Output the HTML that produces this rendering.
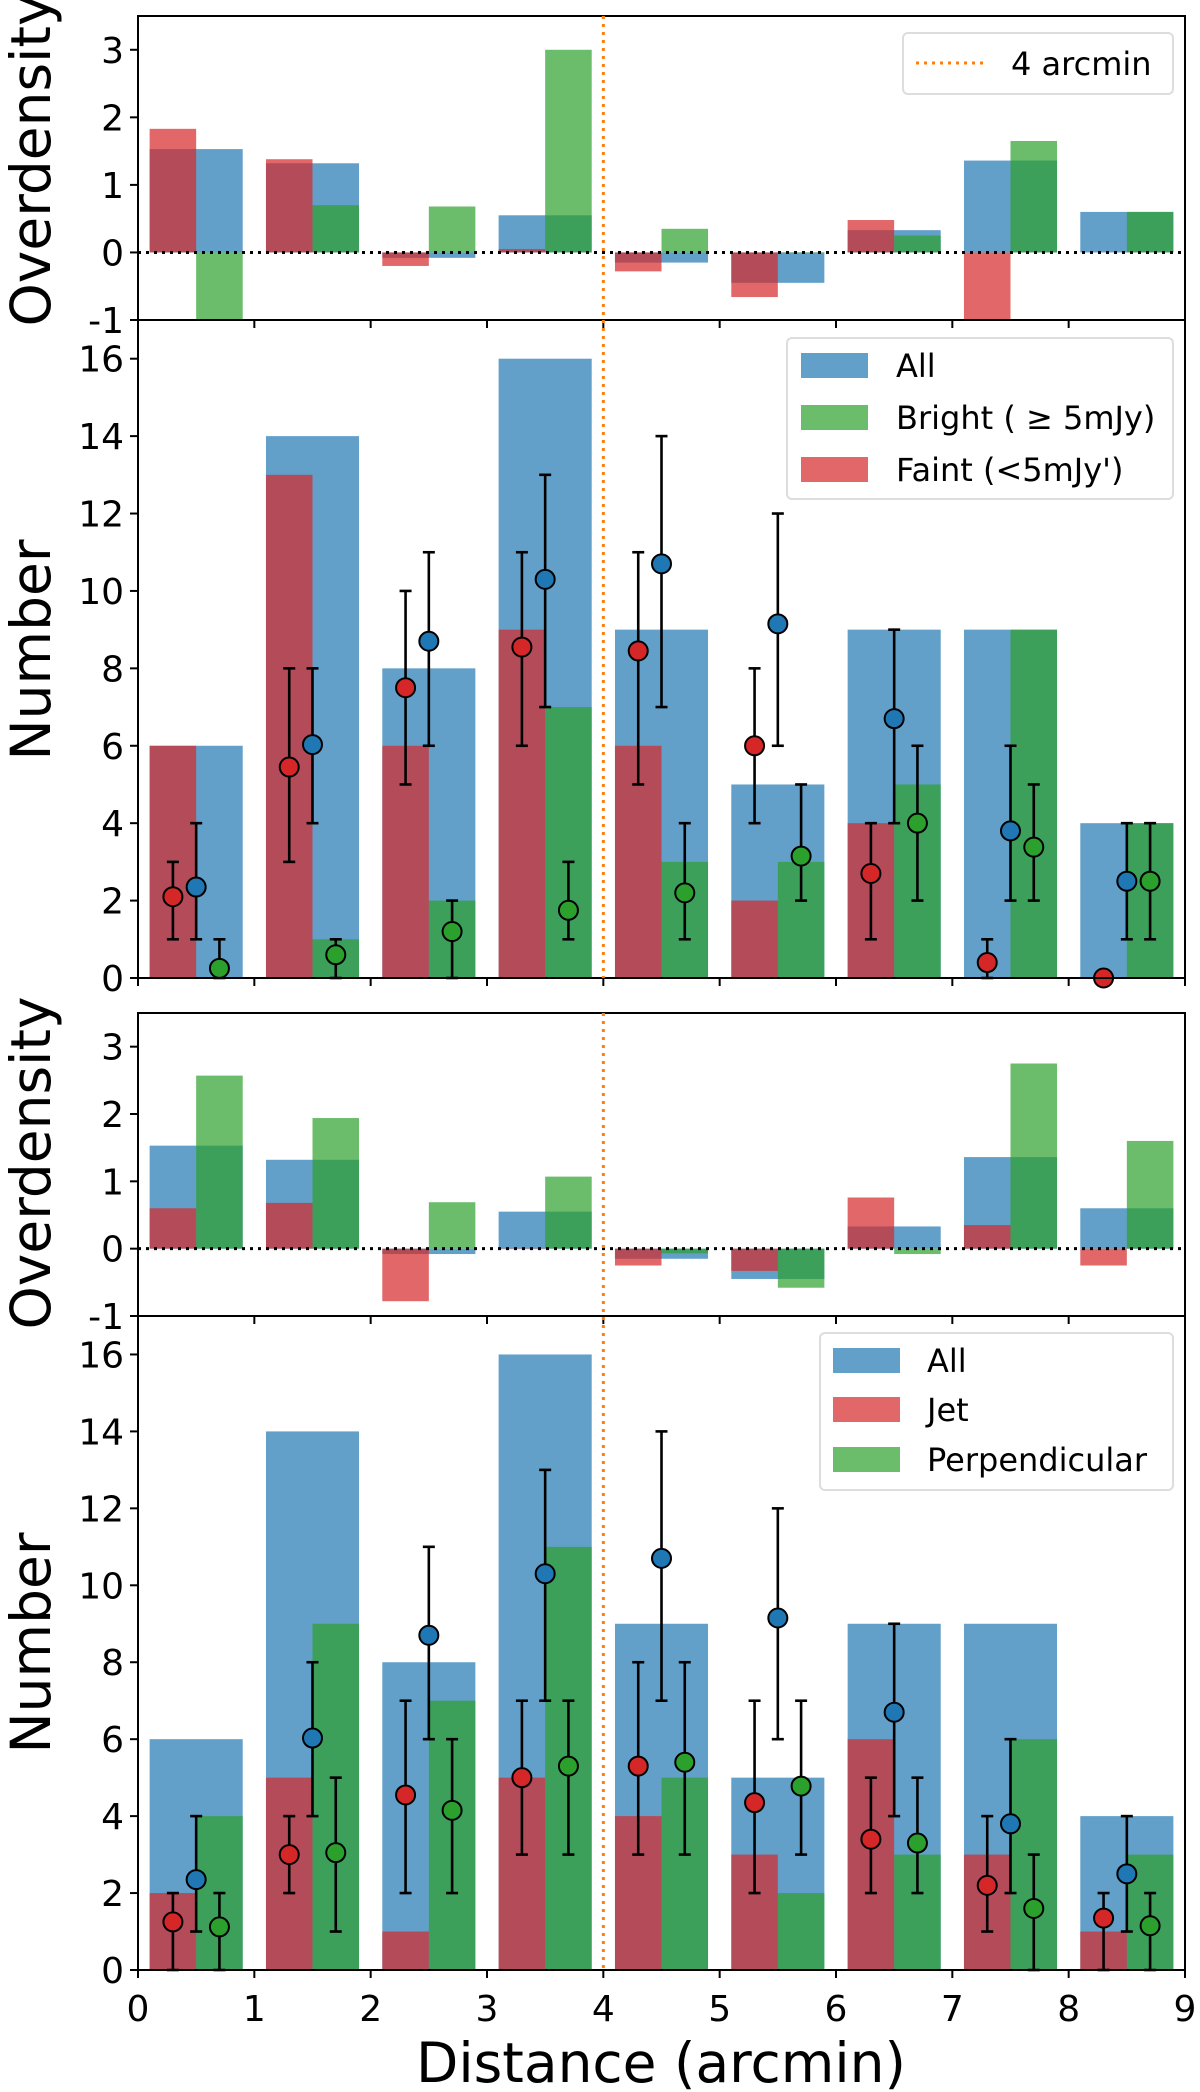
<!DOCTYPE html>
<html><head><meta charset="utf-8"><style>
html,body{margin:0;padding:0;background:#fff}
svg{display:block}
text{font-family:"DejaVu Sans","Liberation Sans",sans-serif;fill:#000}
</style></head><body>
<svg id="fig" width="1200" height="2092" viewBox="0 0 1200 2092" xmlns="http://www.w3.org/2000/svg">
<defs>
<clipPath id="c1"><rect x="138" y="16" width="1047" height="304"/></clipPath>
<clipPath id="c2"><rect x="138" y="320" width="1047" height="658"/></clipPath>
<clipPath id="c3"><rect x="138" y="1013" width="1047" height="303"/></clipPath>
<clipPath id="c4"><rect x="138" y="1316" width="1047" height="654"/></clipPath>
</defs>
</svg>
<script>
// ---- data ----
const bins = [0.5,1.5,2.5,3.5,4.5,5.5,6.5,7.5,8.5];
const xTicks = [0,1,2,3,4,5,6,7,8,9];
const odTicks = [-1,0,1,2,3];
const numTicks = [0,2,4,6,8,10,12,14,16];
// panel 1
const odAll = [1.53,1.32,-0.08,0.55,-0.15,-0.45,0.33,1.36,0.6];
const odBright = [-1,0.7,0.68,3.0,0.35,0,0.25,1.65,0.6];
const odFaint = [1.83,1.38,-0.2,0.05,-0.28,-0.66,0.48,-1,null];
// panel 2
const nAll = [6,14,8,16,9,5,9,9,4];
const nBright = [0,1,2,7,3,3,5,9,4];
const nFaint = [6,13,6,9,6,2,4,0,0];
const pFaint = [2.1,5.45,7.5,8.55,8.45,6.0,2.7,0.4,0.0];
const eFaintLo = [1,3,5,6,5,4,1,0,0];
const eFaintHi = [3,8,10,11,11,8,4,1,0];
const pAll = [2.35,6.03,8.7,10.3,10.7,9.15,6.7,3.8,2.5];
const eAllLo = [1,4,6,7,7,6,4,2,1];
const eAllHi = [4,8,11,13,14,12,9,6,4];
const pBright = [0.25,0.6,1.2,1.75,2.2,3.15,4.0,3.38,2.5];
const eBrightLo = [0,0,0,1,1,2,2,2,1];
const eBrightHi = [1,1,2,3,4,5,6,5,4];
// panel 3
const odJet = [0.6,0.68,-0.78,0,-0.25,-0.33,0.76,0.35,-0.25];
const odPerp = [2.57,1.94,0.69,1.07,-0.07,-0.58,-0.08,2.75,1.6];
// panel 4
const nJet = [2,5,1,5,4,3,6,3,1];
const nPerp = [4,9,7,11,5,2,3,6,3];
const pJet = [1.25,3.0,4.55,5.0,5.3,4.35,3.4,2.2,1.35];
const eJetLo = [0,2,2,3,3,2,2,1,0];
const eJetHi = [2,4,7,7,8,7,5,4,2];
const pPerp = [1.12,3.05,4.15,5.3,5.4,4.78,3.3,1.6,1.15];
const ePerpLo = [0,1,2,3,3,3,2,0,0];
const ePerpHi = [2,5,6,7,8,7,5,3,2];

const BLUE='#1f77b4',GREEN='#2ca02c',RED='#d62728',ORANGE='#ff7f0e';
const svg=document.getElementById('fig');
const NS='http://www.w3.org/2000/svg';
const X0=138,X1=1185;
const xs=v=>X0+(X1-X0)*v/9;
function mk(tag,attrs,parent){const e=document.createElementNS(NS,tag);for(const k in attrs)e.setAttribute(k,attrs[k]);(parent||svg).appendChild(e);return e;}
function panel(top,bot,ymin,ymax){return {top,bot,y:v=>bot-(bot-top)*(v-ymin)/(ymax-ymin)};}
const P1=panel(16,320,-1,3.5),P2=panel(320,978,0,17),P3=panel(1013,1316,-1,3.5),P4=panel(1316,1970,0,17);

function bars(P,vals,x0,x1,color,clip,name){
  const g=mk('g',{'clip-path':'url(#'+clip+')'});
  
  
  vals.forEach((v,i)=>{ if(v===null)return;
    const ya=P.y(Math.max(v,0)), yb=P.y(Math.min(v,0));
    const r=mk('rect',{x:xs(bins[i]+x0),y:ya,width:xs(bins[i]+x1)-xs(bins[i]+x0),height:Math.max(yb-ya,0.5),fill:color,'fill-opacity':0.7},g);
    
    
  });
}
function points(P,vals,lo,hi,off,color,name){
  const g=mk('g',{});
  
  
  vals.forEach((v,i)=>{
    const x=xs(bins[i]+off);
    mk('line',{x1:x,x2:x,y1:P.y(lo[i]),y2:P.y(hi[i]),stroke:'#000','stroke-width':2.6},g);
    [lo[i],hi[i]].forEach(c=>mk('line',{x1:x-6,x2:x+6,y1:P.y(c),y2:P.y(c),stroke:'#000','stroke-width':2.6},g));
    const c=mk('circle',{cx:x,cy:P.y(v),r:9.5,fill:color,stroke:'#000','stroke-width':2},g);
    
    
  });
}
function axes(P,ticks,name,labels){
  const g=mk('g',{});
  
  
  mk('rect',{x:X0,y:P.top,width:X1-X0,height:P.bot-P.top,fill:'none',stroke:'#000','stroke-width':2},g);
  ticks.forEach(t=>{const y=P.y(t);
    mk('line',{x1:X0-8,x2:X0,y1:y,y2:y,stroke:'#000','stroke-width':2},g);
    const tx=mk('text',{x:X0-14,y:y+13,'font-size':36,'text-anchor':'end'},g);tx.textContent=t;
  });
  xTicks.forEach(t=>{const x=xs(t);
    mk('line',{x1:x,x2:x,y1:P.bot,y2:P.bot+8,stroke:'#000','stroke-width':2},g);
    if(labels){const tx=mk('text',{x:x,y:P.bot+51,'font-size':36,'text-anchor':'middle'},g);tx.textContent=t;}
  });
}
function zeroLine(P){const l=mk('line',{x1:X0,x2:X1,y1:P.y(0),y2:P.y(0),stroke:'#000','stroke-width':3,'stroke-dasharray':'3,5'});
  }

// panel 1
bars(P1,odAll,-0.4,0.4,BLUE,'c1','od-all');
bars(P1,odBright,0,0.4,GREEN,'c1','od-bright');
bars(P1,odFaint,-0.4,0,RED,'c1','od-faint');
zeroLine(P1);
axes(P1,odTicks,'overdensity-top',false);
// panel 2
bars(P2,nAll,-0.4,0.4,BLUE,'c2','n-all');
bars(P2,nBright,0,0.4,GREEN,'c2','n-bright');
bars(P2,nFaint,-0.4,0,RED,'c2','n-faint');
points(P2,pFaint,eFaintLo,eFaintHi,-0.2,RED,'faint');
points(P2,pAll,eAllLo,eAllHi,0,BLUE,'all');
points(P2,pBright,eBrightLo,eBrightHi,0.2,GREEN,'bright');
axes(P2,numTicks,'number-top',false);
// panel 3
bars(P3,odAll,-0.4,0.4,BLUE,'c3','od-all-2');
bars(P3,odPerp,0,0.4,GREEN,'c3','od-perp');
bars(P3,odJet,-0.4,0,RED,'c3','od-jet');
zeroLine(P3);
axes(P3,odTicks,'overdensity-bottom',false);
// panel 4
bars(P4,nAll,-0.4,0.4,BLUE,'c4','n-all-2');
bars(P4,nPerp,0,0.4,GREEN,'c4','n-perp');
bars(P4,nJet,-0.4,0,RED,'c4','n-jet');
points(P4,pJet,eJetLo,eJetHi,-0.2,RED,'jet');
points(P4,pAll,eAllLo,eAllHi,0,BLUE,'all-2');
points(P4,pPerp,ePerpLo,ePerpHi,0.2,GREEN,'perp');
axes(P4,numTicks,'number-bottom',true);

// 4 arcmin line
[[16,978],[1013,1970]].forEach(s=>{const l=mk('line',{x1:xs(4),x2:xs(4),y1:s[0],y2:s[1],stroke:ORANGE,'stroke-width':3,'stroke-dasharray':'3,5'});
 });

// legends
function legend(x,y,w,h,name){const g=mk('g',{});
 
 mk('rect',{x,y,width:w,height:h,rx:5,fill:'#fff','fill-opacity':0.8,stroke:'#ddd','stroke-width':2},g);return g;}
let g=legend(903,33,270,61,'legend-4arcmin');
mk('line',{x1:916,x2:983,y1:63,y2:63,stroke:ORANGE,'stroke-width':3,'stroke-dasharray':'3,5'},g);
let t=mk('text',{x:1011,y:75,'font-size':32},g);t.textContent='4 arcmin';
function lgEntries(g,px,tx,ys,cols,labels){ys.forEach((y,i)=>{
 mk('rect',{x:px,y:y-12,width:67,height:25,fill:cols[i],'fill-opacity':0.7},g);
 const tt=mk('text',{x:tx,y:y+12,'font-size':32},g);tt.textContent=labels[i];});}
g=legend(787,338,386,161,'legend-brightness');
lgEntries(g,801,896,[365,417,469],[BLUE,GREEN,RED],['All','Bright ( \u2265 5mJy)',"Faint (<5mJy')"]);
g=legend(820,1333,353,157,'legend-direction');
lgEntries(g,833,927,[1360,1409,1459],[BLUE,RED,GREEN],['All','Jet','Perpendicular']);

// axis titles
function title(txt,x,y,rot,name){const e=mk('text',{x,y,'font-size':55,'text-anchor':'middle',transform:rot?`rotate(-90 ${x} ${y})`:''});
 e.textContent=txt;}
title('Overdensity',50,160,true,'y-axis-title-overdensity-top');
title('Number',50,650,true,'y-axis-title-number-top');
title('Overdensity',50,1163,true,'y-axis-title-overdensity-bottom');
title('Number',50,1643,true,'y-axis-title-number-bottom');
title('Distance (arcmin)',661,2082,false,'x-axis-title');
</script>
</body></html>
